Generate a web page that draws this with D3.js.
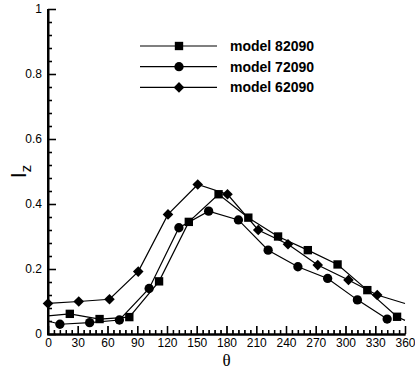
<!DOCTYPE html>
<html>
<head>
<meta charset="utf-8">
<script src="https://cdn.jsdelivr.net/npm/d3@7"></script>
</head>
<body style="margin:0">
<div id="chart"></div>
<script>
// values
const seriesNames = ['model 82090', 'model 72090', 'model 62090'];
const squareTheta = [0, 22, 52, 82, 112, 142, 172, 202, 232, 262, 292, 322, 352, 360];
const squareIz = [0.056, 0.062, 0.046, 0.052, 0.162, 0.345, 0.43, 0.358, 0.30, 0.258, 0.214, 0.135, 0.053, 0.042];
const circleTheta = [0, 12, 42, 72, 102, 132, 162, 192, 222, 252, 282, 312, 342];
const circleIz = [0.04, 0.03, 0.035, 0.043, 0.14, 0.327, 0.378, 0.351, 0.258, 0.207, 0.171, 0.105, 0.046];
const diamondTheta = [0, 31, 62, 91, 121, 151, 181, 212, 242, 272, 303, 332, 360];
const diamondIz = [0.094, 0.10, 0.107, 0.192, 0.368, 0.46, 0.43, 0.32, 0.276, 0.212, 0.166, 0.12, 0.094];
// end points of a line carry no marker
const squareMarked = [false, true, true, true, true, true, true, true, true, true, true, true, true, false];
const circleMarked = [false, true, true, true, true, true, true, true, true, true, true, true, true];
const diamondMarked = [true, true, true, true, true, true, true, true, true, true, true, true, false];
const xTicks = [0, 30, 60, 90, 120, 150, 180, 210, 240, 270, 300, 330, 360];
const yTicks = [0, 0.2, 0.4, 0.6, 0.8, 1];

const width = 415, height = 370;
const margin = { left: 48, right: 10, top: 9, bottom: 36 };

const svg = d3.select('#chart').append('svg')
  .attr('width', width)
  .attr('height', height);

const x = d3.scaleLinear().domain([0, 360]).range([margin.left, width - margin.right]);
const y = d3.scaleLinear().domain([0, 1]).range([height - margin.bottom, margin.top]);

const font = 'Liberation Sans, Arial, sans-serif';
const isMajor = (v, list) => list.some(m => Math.abs(m - v) < 1e-6);

// axes: minor ticks every 6 deg / 0.04, majors longer, all pointing inward
const gx = svg.append('g')
  .attr('transform', 'translate(0,' + y(0) + ')')
  .call(d3.axisBottom(x)
    .tickValues(d3.range(0, 361, 6))
    .tickSize(-4).tickSizeOuter(0).tickPadding(4)
    .tickFormat(d => isMajor(d, xTicks) ? d3.format('d')(d) : ''));
gx.selectAll('.tick').filter(d => isMajor(d, xTicks)).select('line').attr('y2', -8);

const gy = svg.append('g')
  .attr('transform', 'translate(' + x(0) + ',0)')
  .call(d3.axisLeft(y)
    .tickValues(d3.range(0, 1.0001, 0.04))
    .tickSize(-4).tickSizeOuter(0).tickPadding(6)
    .tickFormat(d => !isMajor(d, yTicks) ? '' :
      (Math.abs(d) < 1e-6 ? '0' : Math.abs(d - 1) < 1e-6 ? '1' : d3.format('.1f')(d))));
gy.selectAll('.tick').filter(d => isMajor(d, yTicks)).select('line').attr('x2', 8);

[gx, gy].forEach(g => {
  g.select('.domain').attr('stroke', '#000').attr('stroke-width', 2);
  g.selectAll('.tick line').attr('stroke', '#000').attr('stroke-width', 1.3);
  g.selectAll('.tick text').attr('font-family', font).attr('font-size', 12).attr('fill', '#000');
});

// filled copies of spines and ticks, lying exactly under the stroked ones
const solid = svg.append('g').attr('fill', '#000');
solid.append('rect')
  .attr('x', x(0) - 1).attr('y', y(1)).attr('width', 2).attr('height', y(0) - y(1) + 1);
solid.append('rect')
  .attr('x', x(0) - 1).attr('y', y(0) - 0.5).attr('width', x(360) - x(0) + 1.5).attr('height', 2);
solid.selectAll('rect.xt')
  .data(d3.range(0, 361, 6))
  .join('rect')
  .attr('class', 'xt')
  .attr('x', d => x(d) - 0.15)
  .attr('width', 1.3)
  .attr('y', d => y(0) - (isMajor(d, xTicks) ? 8 : 4))
  .attr('height', d => isMajor(d, xTicks) ? 8 : 4);
solid.selectAll('rect.yt')
  .data(d3.range(0, 1.0001, 0.04))
  .join('rect')
  .attr('class', 'yt')
  .attr('x', x(0))
  .attr('width', d => isMajor(d, yTicks) ? 8 : 4)
  .attr('y', d => y(d) - 0.15)
  .attr('height', 1.3);

// series
const series = [
  { name: seriesNames[0], theta: squareTheta, iz: squareIz, marked: squareMarked, shape: d3.symbolSquare, size: 70, rot: 0 },
  { name: seriesNames[1], theta: circleTheta, iz: circleIz, marked: circleMarked, shape: d3.symbolCircle, size: 68, rot: 0 },
  { name: seriesNames[2], theta: diamondTheta, iz: diamondIz, marked: diamondMarked, shape: d3.symbolSquare, size: 56, rot: 45 }
];

const line = d3.line().x(d => x(d[0])).y(d => y(d[1]));

series.forEach(s => {
  const pts = s.theta.map((t, i) => [t, s.iz[i], s.marked[i]]);
  svg.append('path')
    .attr('d', line(pts))
    .attr('fill', 'none')
    .attr('stroke', '#000')
    .attr('stroke-width', 1.2);
  svg.append('g').selectAll('path')
    .data(pts.filter(p => p[2]))
    .join('path')
    .attr('d', d3.symbol().type(s.shape).size(s.size))
    .attr('transform', d => 'translate(' + x(d[0]) + ',' + y(d[1]) + ') rotate(' + s.rot + ')')
    .attr('fill', '#000');
});

// legend
const legend = svg.append('g').attr('transform', 'translate(140,46)');
series.forEach((s, i) => {
  const row = legend.append('g').attr('transform', 'translate(0,' + i * 20.7 + ')');
  row.append('line').attr('x1', 0).attr('x2', 77).attr('stroke', '#000').attr('stroke-width', 1.2);
  row.append('path')
    .attr('d', d3.symbol().type(s.shape).size(s.size))
    .attr('transform', 'translate(39,0) rotate(' + s.rot + ')')
    .attr('fill', '#000');
  row.append('text')
    .attr('x', 90).attr('y', 5)
    .attr('font-family', font)
    .attr('font-weight', 'bold')
    .attr('font-size', 14)
    .text(s.name);
});

// axis titles
svg.append('text')
  .attr('x', x(180)).attr('y', 366)
  .attr('text-anchor', 'middle')
  .attr('font-family', 'Liberation Serif, Times New Roman, serif')
  .attr('font-size', 17)
  .text('θ');

const ylab = svg.append('text')
  .attr('transform', 'translate(26,' + y(0.5) + ') rotate(-90)')
  .attr('text-anchor', 'middle')
  .attr('font-family', font)
  .attr('font-size', 22);
ylab.append('tspan').text('I');
ylab.append('tspan').attr('font-size', 15).attr('dy', 5).text('z');
</script>
</body>
</html>
